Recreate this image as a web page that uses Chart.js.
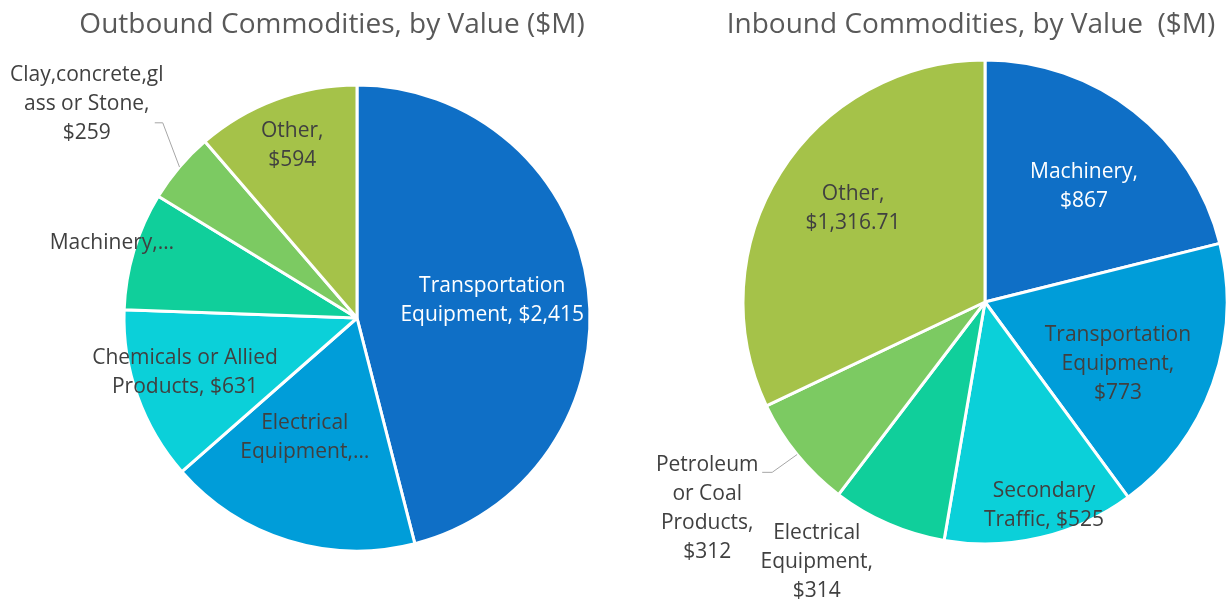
<!DOCTYPE html>
<html>
<head>
<meta charset="utf-8">
<script src="https://cdn.jsdelivr.net/npm/chart.js@4"></script>
<style>
  body { margin: 0; background: #fff; }
  #wrap { position: relative; width: 1229px; height: 605px; }
  canvas { position: absolute; top: 0; }
  #out-chart { left: 0; }
  #in-chart { left: 620px; }
</style>
</head>
<body>
<div id="wrap">
  <canvas id="out-chart" width="620" height="605"></canvas>
  <canvas id="in-chart" width="609" height="605"></canvas>
</div>
<script>
// DATA
const outCategories = ['Transportation Equipment', 'Electrical Equipment', 'Chemicals or Allied Products', 'Machinery', 'Clay,concrete,glass or Stone', 'Other'];
const outValues = [2415, 920, 631, 430, 259, 594];
const outLabelLines = [
    ['Transportation', 'Equipment, $2,415'],
    ['Electrical', 'Equipment,\u2026'],
    ['Chemicals or Allied', 'Products, $631'],
    ['Machinery,\u2026'],
    ['Clay,concrete,gl', 'ass or Stone,', '$259'],
    ['Other,', '$594']
];

const inCategories = ['Machinery', 'Transportation Equipment', 'Secondary Traffic', 'Electrical Equipment', 'Petroleum or Coal Products', 'Other'];
const inValues = [867, 773, 525, 314, 312, 1316.71];
const inLabelLines = [
    ['Machinery,', '$867'],
    ['Transportation', 'Equipment,', '$773'],
    ['Secondary', 'Traffic, $525'],
    ['Electrical', 'Equipment,', '$314'],
    ['Petroleum', 'or Coal', 'Products,', '$312'],
    ['Other,', '$1,316.71']
];

const sliceColors = ['#0F6FC6', '#009DD9', '#0BD0D9', '#10CF9B', '#7CCA62', '#A5C249'];
const FONT = '"Open Sans", Lato, sans-serif';

// label placement: angle (deg from top, clockwise), distance as fraction of radius
const outLabelPos = [
    {angle: 82.6, dist: 0.585, color: '#fff'},
    {angle: 203.6, dist: 0.56},
    {angle: 252.3, dist: 0.775},
    {angle: 287, dist: 1.10},
    {angle: 308.4, dist: 1.48, leader: {elbow: [76, 19], tail: 8}},
    {angle: 339.4, dist: 0.79}
];
const inLabelPos = [
    {angle: 40.5, dist: 0.63, color: '#fff'},
    {angle: 115, dist: 0.606},
    {angle: 163.8, dist: 0.874},
    {angle: 212.9, dist: 1.28},
    {angle: 233.4, dist: 1.43, leader: {elbow: [65, -36], tail: 10}},
    {angle: 305.2, dist: 0.667}
];

// DRAW TITLE + SLICE LABELS
const pieText = {
    id: 'pieText',
    afterDraw(chart, args, opts) {
        const ctx = chart.ctx;
        ctx.save();
        // title
        ctx.fillStyle = '#595959';
        ctx.font = '28px ' + FONT;
        ctx.textAlign = 'center';
        ctx.textBaseline = 'middle';
        ctx.fillText(opts.title, opts.titleX, opts.titleY);

        // labels
        const arcs = chart.getDatasetMeta(0).data;
        ctx.font = '21px ' + FONT;
        arcs.forEach((arc, i) => {
            const p = opts.pos[i];
            const lines = opts.lines[i];
            const r = arc.outerRadius;
            const a = (p.angle - 90) * Math.PI / 180;
            const lx = arc.x + Math.cos(a) * p.dist * r;
            const ly = arc.y + Math.sin(a) * p.dist * r;
            const lh = 29;
            const top = ly - (lines.length - 1) * lh / 2;
            ctx.fillStyle = p.color || '#404040';
            lines.forEach((t, k) => ctx.fillText(t, lx, top + k * lh));

            if (p.leader) {
                const mid = (arc.startAngle + arc.endAngle) / 2;
                const sx = arc.x + Math.cos(mid) * r;
                const sy = arc.y + Math.sin(mid) * r;
                const ex = lx + p.leader.elbow[0];
                const ey = ly + p.leader.elbow[1];
                ctx.strokeStyle = '#A6A6A6';
                ctx.lineWidth = 1;
                ctx.beginPath();
                ctx.moveTo(sx, sy);
                ctx.lineTo(ex, ey);
                ctx.lineTo(ex - p.leader.tail, ey);
                ctx.stroke();
            }
        });
        ctx.restore();
    }
};

const buildPie = (id, categories, values, lines, pos, title, titleX, padding) => {
    const ctx = document.getElementById(id).getContext('2d');
    return new Chart(ctx, {
        type: 'pie',
        data: {
            labels: categories,
            datasets: [{
                data: values,
                backgroundColor: sliceColors,
                borderColor: '#ffffff',
                borderWidth: 3
            }]
        },
        options: {
            responsive: false,
            animation: false,
            layout: {padding: padding},
            plugins: {
                legend: {display: false},
                tooltip: {enabled: false},
                pieText: {title: title, titleX: titleX, titleY: 25, lines: lines, pos: pos}
            }
        },
        plugins: [pieText]
    });
};

buildPie('out-chart', outCategories, outValues, outLabelLines, outLabelPos,
    'Outbound Commodities, by Value ($M)', 332,
    {left: 122.5, right: 28.5, top: 83.5, bottom: 52.5});
buildPie('in-chart', inCategories, inValues, inLabelLines, inLabelPos,
    'Inbound Commodities, by Value  ($M)', 351,
    {left: 121.5, right: 0.5, top: 58.5, bottom: 59.5});
</script>
</body>
</html>
